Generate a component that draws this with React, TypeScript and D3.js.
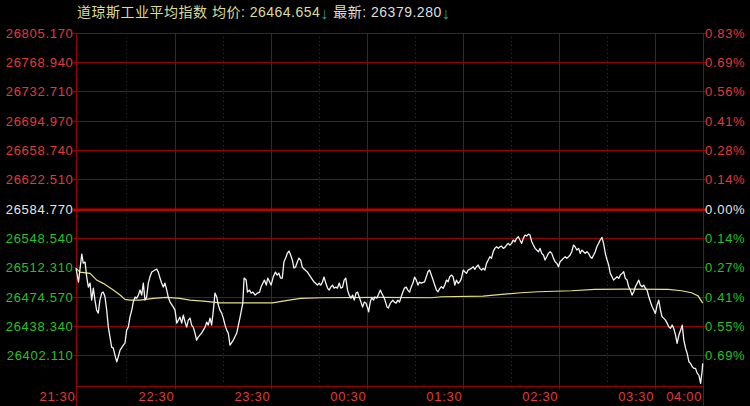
import React from 'react';
import * as d3 from 'd3';

// ---- data ----
const titleName = '道琼斯工业平均指数';
const avgLabel = '均价: 26464.654';
const lastLabel = '最新: 26379.280';

const leftLabels = ['26805.170', '26768.940', '26732.710', '26694.970', '26658.740', '26622.510', '26584.770', '26548.540', '26512.310', '26474.570', '26438.340', '26402.110'];
const rightLabels = ['0.83%', '0.69%', '0.56%', '0.41%', '0.28%', '0.14%', '0.00%', '0.14%', '0.27%', '0.41%', '0.55%', '0.69%'];
const baseIndex = 6;

const timeLabels = ['21:30', '22:30', '23:30', '00:30', '01:30', '02:30', '03:30', '04:00'];
const timeMinutes = [0, 60, 120, 180, 240, 300, 360, 390];
const halfHourMinutes = [30, 90, 150, 210, 270, 330];

// minutes after 21:30
const priceMinutes = [
  0, 1.5, 3.5, 4.4, 5.5, 6.5, 7.5, 8.5, 9.5, 10.5,
  11.5, 12.5, 13.5, 14.5, 15.6, 16.5, 17.6, 18.6, 19.6, 20.6,
  21.6, 22.6, 23.6, 24.7, 25.6, 26.7, 28.7, 29.7, 30.7, 31.7,
  32.7, 33.8, 34.7, 35.8, 36.8, 37.8, 38.8, 39.8, 40.8, 41.8,
  42.8, 43.8, 44.8, 45.9, 47.9, 48.9, 49.9, 50.9, 51.9, 52.9,
  53.9, 55.0, 55.9, 57.0, 59.0, 60,
  61.1, 62.1, 63.1, 64.2, 65.2, 66.3, 67.3, 68.3, 69.4, 70.4,
  71.4, 72.5, 73.5, 74.5, 76.6, 78.8, 79.8, 80.8, 81.9, 82.9,
  84.0, 85.0, 86.1, 87.1, 88.1, 89.2, 90.2, 91.3, 92.3, 93.3,
  94.4, 96.5, 98.6, 100.7, 102.4, 103.2, 104.5, 105.3, 106.6, 107.5,
  108.7, 110.1, 111.6, 112.9, 113.8, 115.0, 115.9, 117.1, 118.0, 119.2,
  120.1, 121.4, 122.8, 123.9, 124.9, 126.0, 127.1, 128.1, 129.2, 130.3,
  131.3, 132.3, 133.4, 134.4, 135.4, 136.5, 137.5, 138.6, 139.6, 140.7,
  142.8, 144.9, 147.0, 149.1, 150.1, 151.2, 152.2, 153.2, 154.3, 155.4,
  156.4, 157.4, 158.5, 159.5, 160.6, 161.6, 162.7, 163.7, 164.8, 165.8,
  166.8, 167.9, 168.9, 170.0, 171.1, 172.1, 173.2, 174.2, 175.2, 176.3,
  177.3, 178.4, 179.4, 180.5, 181.1, 182.1, 183.0, 184.2, 185.0, 186.3,
  187.1, 188.4, 189.2, 190.5, 191.3, 192.6, 193.4, 194.7, 196.2, 197.2,
  198.3, 199.3, 200.4, 201.4, 202.5, 203.5, 204.6, 205.6, 206.7, 207.7,
  208.8, 209.8, 210.9, 211.9, 212.9, 214.0, 216.1, 218.2, 219.2, 220.3,
  221.4, 222.4, 223.5, 224.5, 225.6, 226.6, 227.7, 228.7, 229.8, 230.8,
  231.8, 232.9, 233.9, 235.0, 236.0, 237.1, 238.1, 239.1, 240.2, 241.2,
  242.3, 243.3, 245.4, 246.5, 247.5, 248.5, 249.6, 250.6, 251.7, 252.7,
  253.8, 254.8, 255.9, 256.9, 257.9, 259.0, 260.0, 261.1, 262.2, 263.2,
  264.2, 265.3, 266.3, 267.4, 268.4, 269.4, 270.5, 271.5, 272.6, 273.6,
  274.7, 275.7, 276.8, 277.8, 278.9, 279.9, 281.0, 282.0, 283.1, 284.1,
  285.2, 286.2, 287.3, 288.3, 289.3, 290.4, 291.4, 292.5, 293.5, 294.6,
  295.6, 296.7, 297.7, 298.8, 299.8, 300.8, 301.9, 302.9, 304.0, 305.0,
  306.1, 307.1, 308.1, 309.2, 310.2, 311.3, 312.4, 313.4, 314.4, 315.5,
  316.5, 317.6, 318.6, 319.7, 320.7, 321.8, 322.8, 323.8, 324.9, 325.9,
  327.0, 328.0, 329.1, 330.2, 331.2, 332.2, 333.3, 334.3, 335.4, 336.4,
  337.5, 338.5, 339.6, 340.6, 341.6, 342.7, 343.7, 344.8, 345.8, 346.9,
  347.9, 349.0, 350.0, 351.0, 352.1, 353.1, 354.2, 355.2, 356.3, 357.3,
  358.4, 359.4, 360.4, 361.5, 362.5, 363.6, 364.6, 365.7, 366.7, 367.8,
  368.8, 369.8, 370.9, 371.9, 373.0, 374.0, 375.1, 376.2, 377.2, 378.2,
  379.3, 380.3, 381.4, 382.4, 383.5, 384.5, 385.5, 386.6, 387.6, 388.7,
  389.7, 390,
];

const priceValues = [
  26511.30, 26493.80, 26528.81, 26517.56, 26518.81, 26500.05, 26487.54, 26492.55, 26471.29, 26486.29,
  26471.29, 26458.78, 26455.03, 26471.29, 26480.04, 26481.29, 26475.04, 26458.78, 26437.53, 26425.02,
  26412.52, 26411.27, 26402.51, 26394.13, 26399.99, 26408.76, 26415.02, 26417.52, 26433.77, 26437.53,
  26450.03, 26458.78, 26468.79, 26475.04, 26473.79, 26477.54, 26483.79, 26477.54, 26492.55, 26471.29,
  26475.04, 26492.55, 26500.05, 26506.30, 26508.80, 26510.05, 26506.30, 26498.80, 26492.55, 26487.54,
  26492.55, 26483.79, 26475.04, 26468.79, 26462.53, 26458.78,
  26442.53, 26446.28, 26450.03, 26442.53, 26452.53, 26443.78, 26437.53, 26446.28, 26448.78, 26440.03,
  26437.53, 26430.02, 26421.27, 26425.02, 26430.02, 26437.53, 26443.78, 26440.03, 26448.78, 26440.03,
  26458.78, 26480.04, 26475.04, 26465.04, 26458.78, 26455.03, 26448.78, 26440.03, 26433.77, 26430.02,
  26415.02, 26421.27, 26430.02, 26450.03, 26467.54, 26498.80, 26496.30, 26481.29, 26483.79, 26480.04,
  26481.29, 26477.54, 26480.04, 26481.29, 26487.54, 26492.55, 26496.30, 26490.04, 26498.80, 26493.80,
  26490.04, 26500.05, 26506.30, 26502.55, 26505.05, 26498.80, 26498.80, 26518.81, 26523.81, 26530.06,
  26532.56, 26527.56, 26521.31, 26511.30, 26512.55, 26518.81, 26523.81, 26521.31, 26512.55, 26510.05,
  26506.30, 26500.05, 26493.80, 26490.04, 26492.55, 26490.04, 26493.80, 26500.05, 26492.55, 26486.29,
  26483.79, 26487.54, 26490.04, 26486.29, 26487.54, 26486.29, 26492.55, 26486.29, 26487.54, 26496.30,
  26498.80, 26483.79, 26477.54, 26473.79, 26477.54, 26471.29, 26480.04, 26481.29, 26475.04, 26468.79,
  26462.53, 26468.79, 26467.54, 26461.28, 26456.65, 26468.79, 26473.79, 26471.29, 26475.04, 26473.79,
  26477.54, 26483.79, 26480.04, 26475.04, 26471.29, 26462.53, 26461.28, 26467.54, 26471.29, 26468.79,
  26467.54, 26471.29, 26468.79, 26475.04, 26481.29, 26486.29, 26487.54, 26483.79, 26481.29, 26487.54,
  26492.55, 26500.05, 26496.30, 26490.04, 26493.80, 26492.55, 26494.17, 26506.67, 26508.80, 26502.55,
  26496.30, 26490.04, 26483.79, 26481.67, 26485.92, 26487.92, 26485.92, 26490.04, 26496.30, 26494.17,
  26500.42, 26502.55, 26500.42, 26490.04, 26496.30, 26492.17, 26494.17, 26498.43, 26508.80, 26506.67,
  26504.67, 26508.80, 26510.93, 26512.93, 26509.68, 26512.93, 26515.05, 26510.93, 26508.80, 26510.93,
  26508.80, 26517.18, 26521.31, 26525.43, 26523.43, 26531.68, 26535.94, 26537.94, 26535.94, 26537.94,
  26538.81, 26535.94, 26537.19, 26540.06, 26542.19, 26540.06, 26542.19, 26546.32, 26544.19, 26548.44,
  26550.44, 26546.32, 26542.19, 26548.44, 26552.57, 26551.32, 26553.82, 26552.57, 26544.19, 26540.06,
  26535.94, 26533.81, 26531.68, 26535.94, 26529.68, 26527.56, 26521.31, 26525.43, 26529.68, 26531.68,
  26529.68, 26523.43, 26519.18, 26517.18, 26512.93, 26519.18, 26521.31, 26523.43, 26525.43, 26523.43,
  26525.43, 26527.56, 26531.68, 26540.06, 26537.94, 26533.81, 26535.94, 26529.68, 26533.81, 26531.68,
  26529.68, 26531.68, 26529.68, 26525.43, 26523.43, 26527.56, 26531.68, 26537.94, 26542.19, 26546.32,
  26549.69, 26542.19, 26529.68, 26521.31, 26515.05, 26504.67, 26500.42, 26496.30, 26498.43, 26500.42,
  26498.43, 26502.55, 26504.67, 26506.67, 26498.43, 26496.30, 26487.92, 26483.79, 26477.54, 26481.67,
  26487.92, 26492.17, 26496.30, 26490.04, 26487.92, 26490.04, 26485.92, 26483.79, 26475.42, 26469.16,
  26462.91, 26458.78, 26454.66, 26465.04, 26471.29, 26458.78, 26450.41, 26448.41, 26446.28, 26442.16,
  26437.90, 26435.90, 26440.03, 26435.90, 26427.52, 26417.14, 26427.52, 26433.77, 26440.03, 26421.27,
  26410.89, 26404.64, 26394.13, 26392.13, 26387.88, 26385.88, 26385.88, 26379.62, 26377.50, 26367.12,
  26383.75, 26392.13,
];

const avgMinutes = [0, 2.4, 8.5, 12.5, 16.5, 22.6, 26.7, 29.7, 32.7, 38.8, 46.8, 55.0, 63.1, 69.4, 77.7, 88.1, 106.6, 121.0, 131.3, 138.6, 152.2, 188.6, 220.3, 226.6, 252.7, 266.0, 276.6, 287.1, 308.0, 322.4, 341.2, 368.5, 376.8, 383.0, 387.2, 390];
const avgValues = [26511.30, 26506.30, 26504.67, 26496.30, 26492.17, 26483.79, 26477.54, 26472.17, 26471.29, 26471.29, 26473.43, 26474.67, 26473.43, 26471.29, 26470.04, 26467.91, 26467.91, 26467.91, 26471.29, 26473.43, 26474.17, 26474.67, 26474.17, 26475.42, 26476.29, 26478.79, 26480.42, 26481.67, 26482.92, 26484.67, 26485.04, 26484.67, 26482.92, 26480.42, 26476.29, 26467.42];

// ---- styles ----
const W = 750;
const H = 406;
const GRID = '#960000';
const RED = '#e23a3a';
const GREEN = '#24c424';
const WHITE = '#e6e6e6';
const NUM_FONT = '"Liberation Sans", Arial, sans-serif';

export default function App() {
  const x = d3.scaleLinear().domain([0, 60, 390]).range([76, 175, 702.7]);
  const y = d3.scaleLinear().domain([26364.37, 26805.17]).range([385.6, 33]);
  const left = x(0);
  const right = x(390);
  const bottom = y(26364.37);
  const top = y(26805.17);
  const crisp = (v: number) => Math.round(v) + 0.5;

  const priceLine = d3
    .line<number>()
    .x((_, i) => x(priceMinutes[i]))
    .y((d) => y(d))(priceValues);
  const avgLine = d3
    .line<number>()
    .x((_, i) => x(avgMinutes[i]))
    .y((d) => y(d))(avgValues);

  const labelColor = (i: number) => (i < baseIndex ? RED : i === baseIndex ? WHITE : GREEN);

  return (
    <svg width={W} height={H} style={{ position: 'absolute', left: 0, top: 0, background: '#000', display: 'block' }}>
      <rect x={0} y={0} width={W} height={H} fill="#000" />
      {/* half-hour dotted verticals */}
      {halfHourMinutes.map((m) => (
        <line key={'h' + m} x1={crisp(x(m))} x2={crisp(x(m))} y1={top} y2={bottom} stroke={GRID} strokeWidth={1} strokeDasharray="1,3" />
      ))}
      {/* hour verticals */}
      {timeMinutes.slice(1, -1).map((m) => (
        <line key={'v' + m} x1={crisp(x(m))} x2={crisp(x(m))} y1={top} y2={bottom + 4} stroke={GRID} strokeWidth={1} />
      ))}
      {/* horizontal gridlines */}
      {leftLabels.map((l, i) =>
        i === baseIndex ? null : (
          <line key={'g' + i} x1={left - 3} x2={right + 3} y1={crisp(y(+l))} y2={crisp(y(+l))} stroke={GRID} strokeWidth={1} />
        )
      )}
      {/* bottom axis */}
      <line x1={left} x2={right} y1={crisp(bottom)} y2={crisp(bottom)} stroke={GRID} strokeWidth={1} />
      {/* left & right axes */}
      <line x1={crisp(left)} x2={crisp(left)} y1={top} y2={H} stroke={GRID} strokeWidth={1} />
      <line x1={crisp(right)} x2={crisp(right)} y1={top} y2={H} stroke={GRID} strokeWidth={1} />
      {/* base line */}
      <line x1={left - 3} x2={right + 3} y1={y(+leftLabels[baseIndex]) + 0.5} y2={y(+leftLabels[baseIndex]) + 0.5} stroke="#c00000" strokeWidth={2.5} />

      {/* series */}
      <path d={avgLine || ''} fill="none" stroke="#e8df86" strokeWidth={1.2} />
      <path d={priceLine || ''} fill="none" stroke="#f4f4f4" strokeWidth={1.3} strokeLinejoin="round" />

      {/* left labels */}
      {leftLabels.map((l, i) => (
        <text key={'l' + i} x={73.5} y={y(+l)} dy="0.36em" textAnchor="end" fill={labelColor(i)} fontSize={13} fontFamily={NUM_FONT} letterSpacing={0.7}>
          {l}
        </text>
      ))}
      {/* right labels */}
      {rightLabels.map((l, i) => (
        <text key={'r' + i} x={705} y={y(+leftLabels[i])} dy="0.36em" textAnchor="start" fill={labelColor(i)} fontSize={13} fontFamily={NUM_FONT} letterSpacing={0.7}>
          {l}
        </text>
      ))}
      {/* time labels */}
      {timeLabels.map((t, i) => (
        <text key={'t' + i} x={x(timeMinutes[i]) - 0.5} y={401} textAnchor="end" fill={RED} fontSize={13} fontFamily={NUM_FONT} letterSpacing={0.7}>
          {t}
        </text>
      ))}
      {/* title */}
      <text x={77} y={16.5} fontSize={14} fontFamily={'"Liberation Sans", "Noto Sans CJK SC", sans-serif'} letterSpacing={0.5}>
        <tspan fill="#dcdc96">{titleName} </tspan>
        <tspan fill="#dcdc96">{avgLabel}</tspan>
        <tspan fill="#1aa8b8" fontSize={16} dy={2}>↓</tspan>
        <tspan fill="#dedede" dy={-2}> {lastLabel}</tspan>
        <tspan fill="#1aa8b8" fontSize={16} dy={2}>↓</tspan>
      </text>
    </svg>
  );
}
